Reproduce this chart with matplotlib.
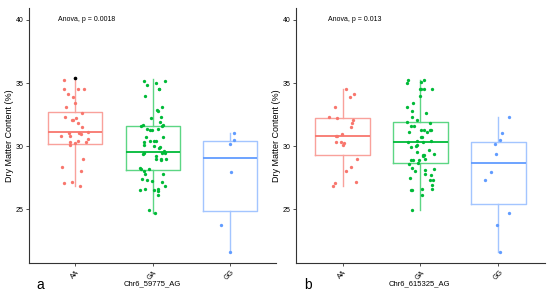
import numpy as np
import matplotlib
matplotlib.use("Agg")
import matplotlib.pyplot as plt

plt.rcParams["font.family"] = ["Liberation Sans", "DejaVu Sans"]

# region Data

genotypes = ["AA", "GA", "GG"]
colors = ["#F8766D", "#00BA38", "#619CFF"]
box_colors = ["#F9A19B", "#5CD684", "#A3C5FF"]

# Panel a: Chr6_59775_AG
a_AA = [35.24, 34.16, 34.5, 34.55, 34.5, 33.92, 33.44, 33.1, 32.6, 32.35, 32.1,
        32.2, 32.05, 31.86, 31.54, 31.1, 31.05, 31.08, 31.0, 30.77, 30.8, 30.58,
        30.3, 30.1, 30.3, 30.4, 30.25, 29.02, 28.36, 28.02, 27.2, 27.05, 26.86]
a_GA = [35.2, 35.15, 35.0, 34.84, 34.5, 34.5, 33.97, 33.1, 32.83, 32.78, 32.3,
        32.2, 31.9, 31.7, 31.6, 31.6, 31.3, 31.3, 31.7, 31.4, 31.35, 30.71,
        30.74, 30.4, 30.38, 30.42, 30.3, 30.1, 29.82, 29.9, 30.0, 29.58, 29.45,
        29.45, 29.4, 29.47, 29.2, 28.95, 28.95, 28.9, 29.0, 28.26, 28.2, 28.22,
        28.0, 27.78, 27.78, 27.4, 27.3, 27.25, 27.2, 26.88, 26.6, 26.62, 26.5,
        26.48, 26.52, 26.17, 24.97, 24.7]
a_GG = [31.06, 30.48, 30.21, 27.94, 23.79, 21.62]
a_q1 = [30.21, 28.15, 24.84]
a_med = [31.14, 29.55, 29.08]
a_q3 = [32.73, 31.59, 30.4]
a_lo = [26.86, 24.7, 21.62]
a_hi = [35.37, 35.3, 31.06]
a_fliers = [[35.37], [], []]

# Panel b: Chr6_615325_AG
b_AA = [34.5, 34.16, 33.93, 33.1, 32.2, 32.1, 32.35, 31.86, 31.54, 31.0, 30.77,
        30.8, 30.35, 30.35, 30.1, 30.25, 29.02, 28.36, 28.0, 27.2, 27.05, 26.86]
b_GA = [35.24, 35.24, 35.0, 35.1, 34.5, 34.5, 34.5, 34.5, 34.0, 33.45, 33.1,
        32.8, 32.6, 32.35, 32.1, 31.9, 31.8, 31.6, 31.6, 31.3, 31.3, 31.3, 31.3,
        31.1, 31.1, 30.7, 30.7, 30.45, 30.4, 30.3, 30.3, 30.1, 30.0, 29.9, 29.7,
        29.5, 29.4, 29.25, 29.3, 29.3, 28.95, 28.9, 28.9, 28.87, 28.7, 28.6,
        28.2, 28.3, 28.15, 28.0, 27.7, 27.78, 27.5, 27.3, 27.35, 26.9, 26.6,
        26.5, 26.55, 26.6, 26.17, 24.97]
b_GG = [32.3, 31.06, 30.5, 30.2, 29.42, 27.94, 27.33, 24.7, 23.79, 21.62]
b_q1 = [29.29, 28.68, 25.43]
b_med = [30.8, 30.32, 28.68]
b_q3 = [32.2, 31.93, 30.35]
b_lo = [26.86, 24.97, 21.62]
b_hi = [34.5, 35.24, 32.3]
b_fliers = [[], [], []]

# endregion


def draw_panel(ax, groups, q1, med, q3, lo, hi, fliers, anova, seed):
    rng = np.random.default_rng(seed)
    positions = np.arange(1, len(genotypes) + 1)

    stats = [
        dict(q1=q1[i], med=med[i], q3=q3[i], whislo=lo[i], whishi=hi[i],
             fliers=fliers[i])
        for i in range(len(genotypes))
    ]
    bp = ax.bxp(stats, positions=positions, widths=0.7, showcaps=False,
                showfliers=True, patch_artist=False)
    for i in range(len(genotypes)):
        bp["boxes"][i].set(color=box_colors[i], linewidth=1.0)
        bp["medians"][i].set(color=colors[i], linewidth=1.3)
        for w in bp["whiskers"][2 * i:2 * i + 2]:
            w.set(color=box_colors[i], linewidth=1.0)
        bp["fliers"][i].set(marker="o", markersize=1.6, markerfacecolor="black",
                            markeredgecolor="black")

    for i, vals in enumerate(groups):
        xs = positions[i] + rng.uniform(-0.18, 0.18, len(vals))
        ax.plot(xs, vals, linestyle="None", marker="o", markersize=2.4,
                markeredgewidth=0, color=colors[i], zorder=3)

    ax.set_xlim(0.4, 3.6)
    ax.set_ylim(20.72, 40.95)
    ax.set_yticks([25, 30, 35, 40])
    ax.set_xticks(positions)
    ax.set_xticklabels(genotypes, rotation=45, ha="center", va="top")
    ax.tick_params(labelsize=5, length=2, width=0.6, color="#333333", pad=2)
    for side in ["top", "right"]:
        ax.spines[side].set_visible(False)
    for side in ["left", "bottom"]:
        ax.spines[side].set_linewidth(0.8)
        ax.spines[side].set_color("#333333")
    ax.set_ylabel("Dry Matter Content (%)", fontsize=6.5, labelpad=1)
    ax.text(1.15, 40.0, anova, fontsize=5, ha="center", va="center")


fig = plt.figure(figsize=(5.5, 2.93), dpi=100)
ax_a = fig.add_axes([0.0527, 0.1014, 0.4493, 0.8713])
ax_b = fig.add_axes([0.538, 0.1014, 0.453, 0.8713])

draw_panel(ax_a, [a_AA, a_GA, a_GG], a_q1, a_med, a_q3, a_lo, a_hi, a_fliers,
           "Anova, p = 0.0018", 3)
draw_panel(ax_b, [b_AA, b_GA, b_GG], b_q1, b_med, b_q3, b_lo, b_hi, b_fliers,
           "Anova, p = 0.013", 7)

# axis titles and panel letters sit below the rotated tick labels
fig.text(0.277, 0.031, "Chr6_59775_AG", fontsize=5.5, ha="center", va="center")
fig.text(0.762, 0.031, "Chr6_615325_AG", fontsize=5.5, ha="center", va="center")
fig.text(0.066, 0.027, "a", fontsize=10, ha="left", va="center")
fig.text(0.553, 0.027, "b", fontsize=10, ha="left", va="center")

fig.savefig("out.png", dpi=100)
